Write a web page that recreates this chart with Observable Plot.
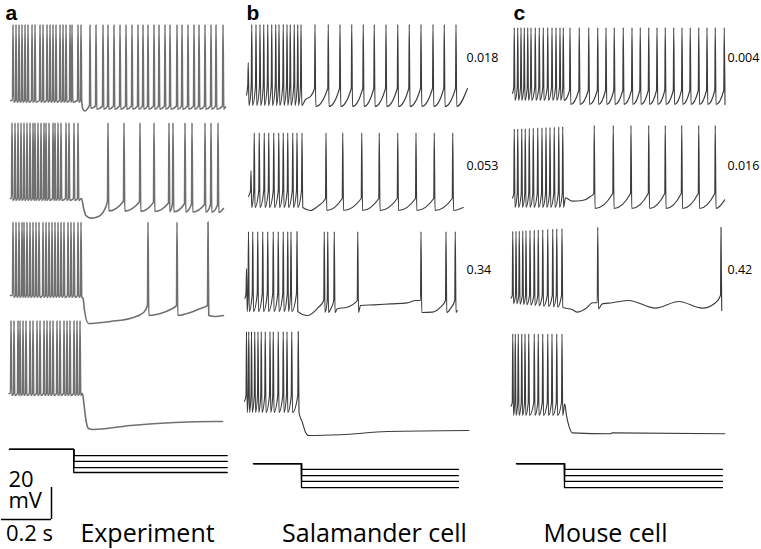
<!DOCTYPE html>
<html><head><meta charset="utf-8">
<script src="https://cdn.jsdelivr.net/npm/d3@7"></script>
<script src="https://cdn.jsdelivr.net/npm/@observablehq/plot@0.6"></script>
<style>html,body{margin:0;padding:0;background:#fff;} svg{display:block;}</style>
</head><body><div id="chart"></div>
<script>
// ---------- DATA (time in ms from trace start, voltage in mV) ----------
// Panel a: experiment
const spikesA1 = [16,28,40,52,64,76,92,104,124,136,152,164,176,188,204,216,228,244,252,276,288,324,348,376,396,420,444,468,492,516,536,556,580,600,624,644,672,692,716,740,760,784,808,828,856];
const peakA1 = [[0,10]];
const thrA1 = [[0,-37.5],[290,-37.5],[330,-41],[870,-41]];
const troughA1 = [[0,-38.5],[290,-38.5],[330,-43],[870,-43]];
const subA1 = [[8,-37.5],[298,-43],[306,-44],[314,-43],[868,-41.5]];

const spikesA2 = [12,24,36,48,60,72,84,96,104,116,128,140,148,160,176,184,196,208,228,240,260,276,396,460,524,580,640,656,704,732,784,808,836];
const peakA2 = [[0,11]];
const thrA2 = [[0,-36.25],[290,-36.25],[396,-37.5],[860,-40.5]];
const troughA2 = [[0,-37.5],[290,-37.5],[396,-44],[860,-45]];
const subA2 = [[8,-36.25],[292,-36.25],[300,-42],[310,-47],[330,-48.5],[360,-47.5],[385,-43],[860,-42.5]];

const spikesA3 = [16,28,40,52,60,72,84,96,108,120,136,148,160,172,184,196,208,220,236,248,260,276,288,556,672,796];
const peakA3 = [[0,11.5]];
const thrA3 = [[0,-34.4],[290,-34.4],[550,-40.6],[860,-40.6]];
const troughA3 = [[0,-35.6],[290,-35.6],[550,-46.9],[860,-46.9]];
const subA3 = [[8,-34.4],[298,-36],[304,-43.75],[320,-51.9],[408,-50.6],[500,-48.1],[540,-45],[608,-45.6],[648,-43.1],[728,-45],[768,-42.5],[828,-47.5],[860,-46.9]];

const spikesA4 = [8,20,36,44,56,68,84,96,112,124,140,152,164,176,192,204,220,232,244,260,272,284];
const peakA4 = [[0,12.5]];
const thrA4 = [[0,-33.1]];
const troughA4 = [[0,-34.4]];
const subA4 = [[2,-33.1],[296,-33.1],[302,-40],[310,-50],[320,-55],[336,-55.6],[488,-53.1],[828,-50.6],[856,-50.6]];

// Panel b: salamander cell model
const spikesB1 = [9,23,40,56,71,87,103,119,132,149,164,177,193,207,220,276,329,376,423,469,513,560,607,653,700,748,793,840];
const peakB1 = [[9,-13.75],[10,10]];
const thrB1 = [[0,-28.1],[225,-28.1],[270,-30],[900,-30]];
const troughB1 = [[0,-40.6],[225,-40.6],[270,-41.25],[900,-41.25]];
const subB1 = [[4,-34],[240,-36.9],[260,-35],[888,-30]];

const spikesB2 = [20,33,53,73,91,111,131,149,167,187,204,224,320,387,463,533,607,680,753,827];
const peakB2 = [[20,-18.75],[21,4.8]];
const thrB2 = [[0,-31.25],[230,-31.25],[310,-36.25],[880,-36.25]];
const troughB2 = [[0,-41.9],[230,-41.9],[310,-43.75],[880,-43.75]];
const subB2 = [[12,-35],[260,-43.75],[290,-41],[871,-41.9]];

const spikesB3 = [2,10,27,47,67,87,109,129,149,167,180,204,313,327,353,447,700,800,837];
const peakB3 = [[2,-17.5],[3,5.6]];
const thrB3 = [[0,-33.1],[210,-33.1],[313,-37.5],[860,-37.5]];
const troughB3 = [[0,-44.4],[210,-44.4],[300,-45],[860,-45]];
const subB3 = [[-2,-36],[248,-46.9],[290,-42],[340,-43],[367,-42.7],[407,-41.7],[460,-40.6],[513,-40.2],[580,-39.6],[647,-39],[680,-37.5],[747,-44.8],[780,-41.7],[820,-42.5],[847,-43.75]];

const spikesB4 = [2,11,22,35,48,61,77,96,109,129,149,164,183,209];
const peakB4 = [[0,5.6]];
const thrB4 = [[0,-34.4]];
const troughB4 = [[0,-45]];
const subB4 = [[-4,-38],[227,-51],[240,-57.3],[253,-59.4],[380,-58.9],[567,-56.9],[893,-56.25]];

// Panel c: mouse cell model
const spikesC1 = [13,27,40,53,67,80,97,113,129,147,164,180,196,209,236,273,311,347,380,413,449,484,517,551,584,617,651,684,717,751,784,817,853];
const peakC1 = [[0,8.1]];
const thrC1 = [[0,-29.4],[215,-29.4],[236,-31.25],[860,-31.25]];
const troughC1 = [[0,-37.5],[215,-37.5],[236,-40],[860,-40]];
const subC1 = [[8,-33]];

const spikesC2 = [13,27,43,57,73,89,107,124,140,156,173,191,207,333,409,480,551,617,683,751,817];
const peakC2 = [[0,7],[300,9.4]];
const thrC2 = [[0,-33.1]];
const troughC2 = [[0,-41.9],[250,-41.9],[330,-42.5]];
const subC2 = [[8,-36],[220,-35.8],[247,-37.9],[287,-37.5],[320,-35],[857,-37.1]];

const spikesC3 = [7,20,33,47,60,76,93,109,127,147,167,183,204,347,840];
const peakC3 = [[0,5.6],[300,8.3]];
const thrC3 = [[0,-34.4],[250,-34.4],[347,-38.9],[700,-37],[840,-34.4]];
const troughC3 = [[0,-39.4],[250,-42.5],[860,-43.75]];
const subC3 = [[2,-36],[247,-43.1],[267,-44.8],[300,-42.7],[329,-38.9],[367,-39.6],[407,-38.9],[473,-37.5],[580,-42.3],[673,-38.1],[767,-42.3],[820,-38.9]];

const spikesC4 = [7,17,29,43,56,71,93,109,127,147,164,183,204];
const peakC4 = [[0,4.2]];
const thrC4 = [[0,-38.75]];
const troughC4 = [[0,-46.9]];
const subC4 = [[2,-41],[217,-39.6],[224,-46.9],[233,-53.1],[247,-57.7],[400,-58.3],[407,-57.7],[857,-58.3]];

// Stimulus steps (current, arbitrary units)
const stimTop = [6.9, -1.9, -1.9];
const stimLevels = [[3.1,-0.6,-4.4,-7.5],[-5.6,-9.4,-13.1,-16.9],[-5.6,-9.4,-13.1,-16.9]];
const stimStart = [4, 32, 24];
const stimStep = [261, 224, 216];
const stimEnd = [875, 852, 848];

// Labels
const panelLabels = ["a","b","c"];
const columnTitles = ["Experiment","Salamander cell","Mouse cell"];
const rateLabelsB = ["0.018","0.053","0.34"];
const rateLabelsC = ["0.004","0.016","0.42"];
const scaleBarTime = 200;   // ms
const scaleBarVolt = 20;    // mV
const scaleVoltLabel = "20\nmV";
const scaleTimeLabel = "0.2 s";

// ---------- LAYOUT ----------
const colOffset = [32, 980, 2040];            // ms
const rowOffset = [318.125, 255.625, 193.125, 130.625]; // mV
const stimOffset = 55.625;
const colColor = ["#707070", "#3c3c3c", "#3c3c3c"];
const colWidth = [1.6, 1.15, 1.15];

const traces = [
  ["a1",0,0,spikesA1,peakA1,thrA1,troughA1,subA1],
  ["a2",0,1,spikesA2,peakA2,thrA2,troughA2,subA2],
  ["a3",0,2,spikesA3,peakA3,thrA3,troughA3,subA3],
  ["a4",0,3,spikesA4,peakA4,thrA4,troughA4,subA4],
  ["b1",1,0,spikesB1,peakB1,thrB1,troughB1,subB1],
  ["b2",1,1,spikesB2,peakB2,thrB2,troughB2,subB2],
  ["b3",1,2,spikesB3,peakB3,thrB3,troughB3,subB3],
  ["b4",1,3,spikesB4,peakB4,thrB4,troughB4,subB4],
  ["c1",2,0,spikesC1,peakC1,thrC1,troughC1,subC1],
  ["c2",2,1,spikesC2,peakC2,thrC2,troughC2,subC2],
  ["c3",2,2,spikesC3,peakC3,thrC3,troughC3,subC3],
  ["c4",2,3,spikesC4,peakC4,thrC4,troughC4,subC4]
];

function at(pts, t) {
  if (t <= pts[0][0]) return pts[0][1];
  for (let i = 1; i < pts.length; i++) {
    if (t <= pts[i][0]) {
      const [t0, v0] = pts[i - 1], [t1, v1] = pts[i];
      return v0 + (v1 - v0) * (t - t0) / (t1 - t0);
    }
  }
  return pts[pts.length - 1][1];
}

const traceRows = [];
for (const [id, col, row, spikes, peak, thr, trough, sub] of traces) {
  const ev = [];
  for (const s of spikes) {
    ev.push([s, at(thr, s)]);
    ev.push([s + 2, at(peak, s)]);
    ev.push([s + 5, at(trough, s)]);
  }
  for (const [t, v] of sub) {
    if (!spikes.some(s => t > s - 4 && t < s + 9)) ev.push([t, v]);
  }
  ev.sort((p, q) => p[0] - q[0]);
  for (const [t, v] of ev) traceRows.push({id, col, x: colOffset[col] + t, y: rowOffset[row] + v});
}

const stimRows = [];
for (let c = 0; c < 3; c++) {
  stimLevels[c].forEach((lv, i) => {
    const id = "s" + c + i;
    stimRows.push({id, x: colOffset[c] + stimStart[c], y: stimOffset + stimTop[c]});
    stimRows.push({id, x: colOffset[c] + stimStep[c], y: stimOffset + stimTop[c]});
    stimRows.push({id, x: colOffset[c] + stimStep[c], y: stimOffset + lv});
    stimRows.push({id, x: colOffset[c] + stimEnd[c], y: stimOffset + lv});
  });
}

// text positions (layout)
const labelRows = panelLabels.map((t, i) => ({t, x: [20, 984, 2052][i], y: 335}));
const rateRows = [
  ...rateLabelsB.map((t, i) => ({t, x: 1864, y: [307.5, 240, 174.4][i]})),
  ...rateLabelsC.map((t, i) => ({t, x: 2908, y: [307.5, 240, 174.4][i]}))
];
const titleRows = columnTitles.map((t, i) => ({t, x: [588, 1496, 2420][i], y: 10}));
const barX0 = 4, barY0 = 18.75;

const chart = Plot.plot({
  width: 761, height: 549, margin: 0,
  style: {background: "#fff", fontFamily: "'Open Sans', sans-serif"},
  x: {domain: [0, 3044], range: [0, 761], axis: null},
  y: {domain: [0, 343.125], range: [549, 0], axis: null},
  marks: [
    ...[0, 1, 2].map(c => Plot.line(traceRows.filter(d => d.col === c), {
      x: "x", y: "y", z: "id", curve: "monotone-x",
      stroke: colColor[c], strokeWidth: colWidth[c], strokeLinejoin: "round"
    })),
    Plot.line(stimRows, {x: "x", y: "y", z: "id", stroke: "#000", strokeWidth: 1.3}),
    Plot.ruleY([barY0], {x1: barX0, x2: barX0 + scaleBarTime, stroke: "#000", strokeWidth: 1.5}),
    Plot.ruleX([barX0 + scaleBarTime], {y1: barY0, y2: barY0 + scaleBarVolt, stroke: "#000", strokeWidth: 1.5}),
    Plot.text(labelRows, {x: "x", y: "y", text: "t", textAnchor: "start", fontSize: 21, fontWeight: "bold", fontFamily: "'Liberation Sans', Arial, sans-serif", fill: "#000"}),
    Plot.text(rateRows, {x: "x", y: "y", text: "t", textAnchor: "start", fontSize: 12.5, fill: "#000"}),
    Plot.text(titleRows, {x: "x", y: "y", text: "t", fontSize: 25, fill: "#000"}),
    Plot.text([scaleVoltLabel], {x: 32, y: 36.6, text: d => d, textAnchor: "start", fontSize: 22, lineHeight: 0.95, fill: "#000"}),
    Plot.text([scaleTimeLabel], {x: 116, y: 10, text: d => d, fontSize: 22, fill: "#000"})
  ]
});
document.getElementById("chart").appendChild(chart);
</script>
</body></html>
